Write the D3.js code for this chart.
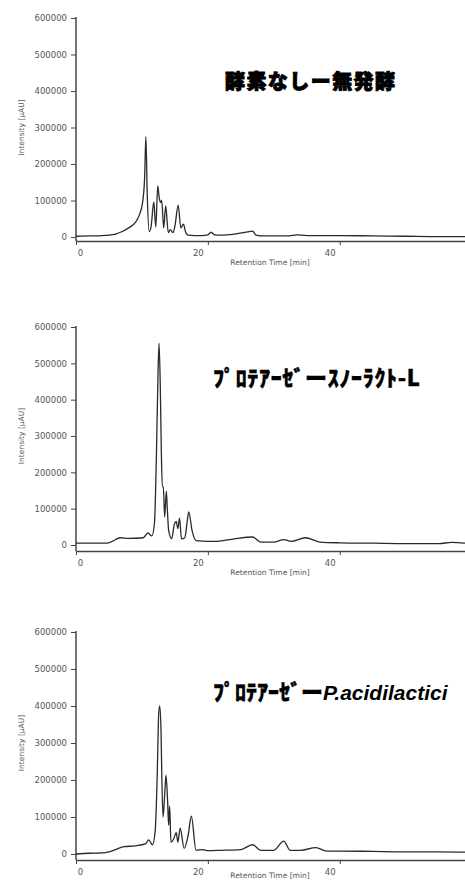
<!DOCTYPE html>
<html>
<head>
<meta charset="utf-8">
<script src="https://cdn.jsdelivr.net/npm/d3@7/dist/d3.min.js"></script>
<style>
  body { margin: 0; background: #fff; }
  svg { display: block; }
  .tick text { font-family: "DejaVu Sans", sans-serif; font-size: 8.5px; fill: #555; }
  .axis path, .axis line { stroke: #444; }
  .lbl { font-family: "DejaVu Sans", sans-serif; font-size: 7.5px; fill: #555; }
  .trace { fill: none; stroke: #2a2a2a; stroke-width: 1.3; stroke-linejoin: round; }
</style>
</head>
<body>
<svg width="465" height="882"></svg>
<script>
// retention time ticks and intensity ticks
var xTicks = [0, 20, 40];
var yTicks = [0, 100000, 200000, 300000, 400000, 500000, 600000];

// 酵素なし－無発酵
var time1 = [0, 2, 4, 5, 6, 7, 8, 9, 9.6, 10.1, 10.4, 10.6, 10.8, 11.1, 11.4, 11.8, 12.1, 12.4, 12.6, 12.8, 13.0, 13.3, 13.6, 14.0, 14.3, 14.7, 15.0, 15.5, 15.9, 16.3, 16.6, 17.0, 18, 19, 20, 20.5, 21, 22, 24, 26, 26.8, 27.3, 28, 30, 32, 33.6, 35, 40, 45, 50, 55, 59];
var value1 = [2000, 3000, 4000, 5000, 8000, 15000, 25000, 40000, 60000, 95000, 160000, 275000, 120000, 15000, 30000, 96000, 27000, 140000, 110000, 95000, 100000, 25000, 85000, 12000, 20000, 12000, 30000, 87000, 25000, 35000, 15000, 5000, 4000, 4000, 6000, 13000, 6000, 5000, 8000, 14000, 16000, 5000, 3000, 3000, 3000, 6000, 4000, 4000, 3000, 2000, 1000, 1000];

// プロテアーゼ－スノーラクト-L
var time2 = [0, 3, 4.7, 5.5, 6.7, 8, 10.2, 10.9, 11.5, 11.9, 12.2, 12.45, 12.6, 12.8, 12.95, 13.1, 13.25, 13.45, 13.7, 13.85, 14.05, 14.5, 14.9, 15.2, 15.45, 15.7, 16.0, 16.5, 16.9, 17.1, 17.6, 18.2, 20, 21.4, 24, 26.8, 28, 30, 31.5, 32.6, 34.8, 37, 40, 45, 50, 55, 57, 59];
var value2 = [5000, 5000, 5000, 10000, 20000, 18000, 20000, 33000, 25000, 60000, 250000, 480000, 555000, 420000, 250000, 160000, 160000, 77000, 148000, 100000, 40000, 17000, 55000, 65000, 45000, 74000, 17000, 20000, 70000, 91000, 40000, 12000, 10000, 10000, 17000, 22000, 8000, 8000, 15000, 10000, 20000, 8000, 6000, 5000, 4000, 4000, 7000, 5000];

// プロテアーゼ－P.acidilactici
var time3 = [0, 2, 4, 5, 6, 7.3, 9, 10.6, 11, 11.6, 12.0, 12.3, 12.55, 12.7, 12.9, 13.0, 13.2, 13.45, 13.65, 13.9, 14.05, 14.2, 14.4, 14.8, 15.2, 15.45, 15.8, 16.4, 17.0, 17.5, 18.2, 19.2, 20, 22, 25, 26.8, 28, 30, 31.5, 32.5, 34, 36.4, 38, 40, 45, 50, 55, 59];
var value3 = [0, 2000, 3000, 6000, 12000, 20000, 22000, 28000, 38000, 25000, 60000, 200000, 380000, 400000, 330000, 227000, 100000, 160000, 213000, 140000, 78000, 130000, 32000, 40000, 58000, 32000, 70000, 15000, 50000, 102000, 10000, 12000, 9000, 10000, 12000, 25000, 10000, 10000, 35000, 10000, 10000, 17000, 8000, 8000, 7000, 6000, 6000, 5000];

var svg = d3.select("svg");

var panels = [
  { time: time1, value: value1, top: 18, zero: 237, axisY: 241, lblY: 265 },
  { time: time2, value: value2, top: 327, zero: 545, axisY: 551, lblY: 575 },
  { time: time3, value: value3, top: 632, zero: 854, axisY: 860, lblY: 878 }
];

var x = d3.scaleLinear()
    .domain([0, 59])
    .range([76, 465]);

panels.forEach(function(p, i) {

  var y = d3.scaleLinear()
      .domain([0, 600000])
      .range([p.zero, p.top]);

  var g = svg.append("g").attr("class", "panel");

  // y axis: ticks only, the line runs down to the x axis
  g.append("g")
      .attr("class", "axis axis--y")
      .attr("transform", "translate(76,0)")
      .call(d3.axisLeft(y).tickValues(yTicks).tickSize(5).tickPadding(4).tickFormat(d3.format("d")))
      .call(function(s) { s.select(".domain").remove(); });

  g.append("line")
      .attr("x1", 76).attr("x2", 76)
      .attr("y1", y(600000) - 1).attr("y2", p.axisY)
      .attr("stroke", "#444").attr("stroke-width", 1.5);

  g.append("g")
      .attr("class", "axis axis--x")
      .attr("transform", "translate(0," + p.axisY + ")")
      .call(d3.axisBottom(x).tickValues(xTicks).tickSize(4).tickSizeOuter(0).tickPadding(5))
      .call(function(s) {
        s.select(".domain").attr("stroke-width", 1.5);
        s.selectAll(".tick text").attr("dx", function(d) { return d === 0 ? 4 : -10; });
      });

  g.append("text")
      .attr("class", "lbl")
      .attr("transform", "translate(24," + ((p.top + p.zero) / 2) + ") rotate(-90)")
      .attr("text-anchor", "middle")
      .text("Intensity [\u00b5AU]");

  g.append("text")
      .attr("class", "lbl")
      .attr("x", 270)
      .attr("y", p.lblY)
      .attr("text-anchor", "middle")
      .text("Retention Time [min]");

  var line = d3.line()
      .x(function(d) { return x(d[0]); })
      .y(function(d) { return y(d[1]); })
      .curve(d3.curveMonotoneX);

  g.append("path")
      .datum(d3.zip(p.time, p.value))
      .attr("class", "trace")
      .attr("d", line);
});

// titles
svg.append("text")
    .attr("x", 225).attr("y", 89)
    .attr("font-family", "'Noto Sans CJK JP', sans-serif")
    .attr("font-weight", 900)
    .attr("font-size", 20)
    .attr("stroke", "#000")
    .attr("stroke-width", 0.9)
    .attr("textLength", 170)
    .text("酵素なしー無発酵");

svg.append("text")
    .attr("x", 213).attr("y", 386)
    .attr("font-family", "'Noto Sans CJK JP', sans-serif")
    .attr("font-weight", 900)
    .attr("font-size", 22)
    .attr("stroke", "#000")
    .attr("stroke-width", 0.4)
    .attr("textLength", 207)
    .text("ﾌﾟﾛﾃｱｰｾﾞーｽﾉｰﾗｸﾄ-L");

var t3 = svg.append("text")
    .attr("x", 213).attr("y", 700)
    .attr("font-weight", 900)
    .attr("font-size", 22);
t3.append("tspan")
    .attr("font-family", "'Noto Sans CJK JP', sans-serif")
    .attr("stroke", "#000")
    .attr("stroke-width", 0.4)
    .text("ﾌﾟﾛﾃｱｰｾﾞー");
t3.append("tspan")
    .attr("font-family", "'Liberation Sans', Arial, sans-serif")
    .attr("font-style", "italic")
    .attr("font-weight", 700)
    .attr("font-size", 21)
    .text("P.acidilactici");
</script>
</body>
</html>
